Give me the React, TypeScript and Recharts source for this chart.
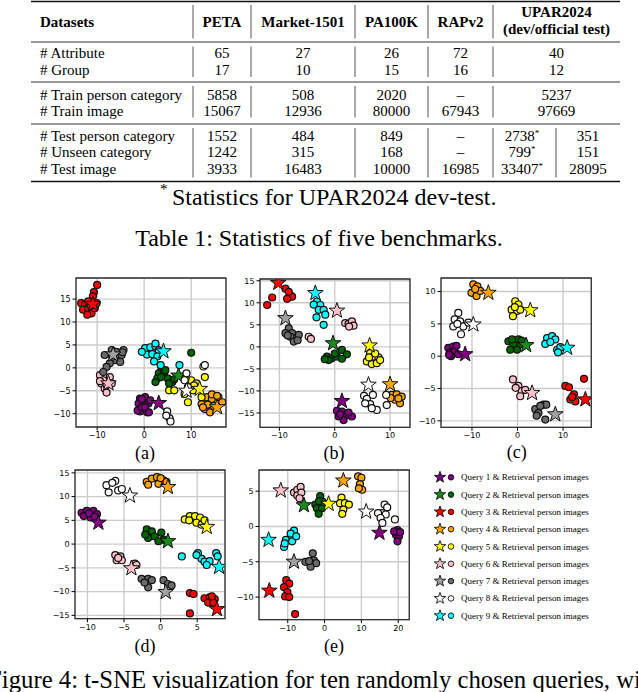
import React from 'react';
import { ScatterChart, Scatter, XAxis, YAxis, CartesianGrid, ReferenceArea } from 'recharts';

// ---------- Table data ----------
const ROW_LABELS = ['# Attribute', '# Group', '# Train person category', '# Train image', '# Test person category', '# Unseen category', '# Test image'];
const PETA = ['65', '17', '5858', '15067', '1552', '1242', '3933'];
const MARKET = ['27', '10', '508', '12936', '484', '315', '16483'];
const PA100K = ['26', '15', '2020', '80000', '849', '168', '10000'];
const RAPV2 = ['72', '16', '\u2013', '67943', '\u2013', '\u2013', '16985'];
const UPAR_DEV = ['40', '12', '5237', '97669', '2738', '799', '33407'];
const UPAR_OFFICIAL = ['', '', '', '', '351', '151', '28095'];
const HEADERS = ['PETA', 'Market-1501', 'PA100K', 'RAPv2'];

// ---------- Scatter data: [x, y] ----------
const QUERY_LABELS = [1, 2, 3, 4, 5, 6, 7, 8, 9];
const CIRCLE_COLORS = ['#800080', '#006400', '#ff0000', '#ffa500', '#ffff00', '#ffc0cb', '#6a6a6a', '#ffffff', '#00ffff'];
const STAR_COLORS = ['#800080', '#1a8a1a', '#ff0000', '#ffa500', '#ffff00', '#ffc0cb', '#a0a0a0', '#ffffff', '#00ffff'];

// (a)
const aStars = [[3.1, -7.7], [7.3, -1.7], [-10.9, 13.9], [15.5, -8.6], [11.8, -4.6], [-7.6, -3.4], [-6.6, 2.9], [9.0, -5.0], [4.1, 3.6]];
const aQ1 = [[-0.9, -6.7], [0.2, -6.4], [-1.2, -7.8], [-0.1, -7.5], [0.9, -7.8], [-0.9, -9.5], [0.6, -9.7], [-1.4, -9.3], [-0.5, -8.6], [1.3, -7.1], [0.2, -8.6], [1.0, -9.7], [-0.5, -6.8]];
const aQ2 = [[3.7, -0.3], [3.1, -1.2], [4.2, -1.2], [5.0, -2.3], [6.0, -3.1], [2.8, -2.3], [2.4, -3.1], [5.3, -3.4], [6.4, -2.5], [10.0, 3.3], [4.5, -0.5], [3.6, -2.0]];
const aQ3 = [[-10.0, 18.1], [-10.7, 16.5], [-10.9, 15.6], [-13.4, 14.1], [-12.6, 13.8], [-11.9, 14.5], [-13.0, 12.7], [-11.9, 12.9], [-11.2, 11.9], [-12.1, 11.6], [-10.5, 13.0], [-10.1, 14.1], [-11.4, 13.6]];
const aQ4 = [[13.3, -6.4], [14.4, -6.8], [15.8, -6.4], [12.2, -7.9], [12.9, -9.0], [14.0, -9.7], [14.8, -8.3], [16.6, -7.5], [14.4, -5.8], [15.5, -6.1], [13.5, -8.0], [12.5, -8.6]];
const aQ5 = [[5.3, -4.9], [6.4, -4.9], [9.3, -7.5], [8.6, -5.7], [10.0, -2.7], [11.1, -3.4], [12.9, -2.0], [10.4, -4.9], [12.2, -6.4], [8.8, -2.3], [10.6, -3.8]];
const aQ6 = [[-9.4, -1.6], [-8.7, -2.7], [-7.3, -2.0], [-9.1, -3.4], [-6.9, -3.4], [-8.4, -4.5], [-8.0, -5.4], [-9.4, -2.9], [-8.0, -3.8]];
const aQ7 = [[-8.4, 2.8], [-6.9, 3.9], [-5.9, 3.5], [-4.4, 3.9], [-4.8, 2.8], [-6.2, 1.7], [-7.3, 1.0], [-5.1, 1.3], [-8.0, 0.2], [-6.8, 2.4], [-8.7, -0.9], [-4.6, 3.4]];
const aQ8 = [[4.9, -9.5], [5.4, -11.0], [5.6, -11.7], [4.7, -10.4], [12.6, 0.3], [12.9, 0.6], [9.0, -1.2], [8.6, -2.7], [9.3, -4.2]];
const aQ9 = [[0.2, 4.3], [1.3, 4.5], [2.4, 4.7], [3.1, 3.8], [0.6, 2.9], [1.7, 3.0], [2.8, 2.5], [2.1, 1.4], [3.5, 0.6], [7.5, 0.6], [-0.5, 3.5], [2.4, 5.3]];

// (b)
const bStars = [[1.3, -12.3], [-0.3, 0.8], [-10.2, 14.5], [10.0, -8.5], [6.3, 0.3], [0.4, 8.2], [-8.9, 6.5], [6.1, -8.6], [-3.5, 12.2]];
const bQ1 = [[0.4, -14.5], [1.3, -14.7], [2.2, -15.5], [3.1, -15.8], [1.6, -16.6], [0.7, -15.8], [2.5, -14.9], [1.0, -15.3]];
const bQ2 = [[-1.4, -2.2], [-0.5, -2.6], [0.4, -2.2], [1.3, -0.7], [2.2, -1.7], [1.3, -2.7], [-1.1, -3.0], [0.0, -1.5], [-1.8, -2.8]];
const bQ3 = [[-8.9, 13.2], [-8.1, 11.8], [-7.7, 11.4], [-8.6, 10.9], [-11.3, 11.2], [-12.2, 9.5], [-8.3, 12.5]];
const bQ4 = [[10.3, -10.9], [11.2, -10.8], [12.1, -11.3], [10.9, -12.0], [11.8, -12.8], [10.1, -11.6], [11.5, -11.7]];
const bQ5 = [[6.4, -1.4], [7.0, -2.2], [7.9, -2.4], [5.8, -3.3], [6.7, -3.9], [7.6, -3.7], [8.2, -3.0], [6.2, -2.4], [7.3, -1.5]];
const bQ6 = [[1.9, 5.4], [2.5, 5.2], [3.1, 5.8], [3.4, 4.8], [-4.7, 2.3], [-4.3, 1.8], [2.6, 4.6]];
const bQ7 = [[-8.3, 4.2], [-7.7, 3.1], [-8.9, 3.1], [-7.1, 2.0], [-8.0, 2.3], [-6.5, 2.7], [-7.4, 1.2], [-6.7, 1.5], [-8.5, 2.6]];
const bQ8 = [[5.3, -11.1], [5.8, -11.8], [6.9, -10.9], [6.4, -13.0], [7.6, -14.3], [6.7, -13.9], [5.5, -12.8], [9.4, -13.2], [9.3, -10.9]];
const bQ9 = [[-3.2, 10.3], [-2.6, 9.5], [-2.9, 8.4], [-2.0, 8.4], [-1.7, 7.3], [-3.3, 6.7], [-2.0, 5.0], [-3.8, 9.6]];

// (c)
const cStars = [[-11.5, 0.3], [1.9, 1.7], [14.9, -6.7], [-6.4, 9.8], [2.8, 7.1], [3.2, -5.7], [8.3, -9.0], [-9.7, 4.9], [10.9, 1.3]];
const cQ1 = [[-15.2, 1.3], [-14.1, 1.5], [-14.9, 0.5], [-13.8, 0.8], [-14.6, 0.0], [-13.0, 0.3], [-13.4, 1.6], [-15.0, 0.2]];
const cQ2 = [[-2.0, 2.3], [-0.9, 1.8], [0.2, 2.6], [0.6, 1.8], [-1.6, 1.0], [-0.1, 1.0], [-1.2, 2.6], [0.9, 2.4]];
const cQ3 = [[10.5, -4.6], [11.3, -4.8], [12.4, -5.9], [11.6, -6.7], [12.7, -7.0], [14.6, -3.5], [12.0, -6.3]];
const cQ4 = [[-9.7, 11.1], [-8.8, 10.8], [-10.1, 9.8], [-9.0, 9.3], [-8.2, 10.1], [-9.3, 10.4]];
const cQ5 = [[-0.5, 8.5], [0.2, 8.0], [-1.3, 7.2], [-0.1, 7.0], [-1.0, 6.2], [0.6, 7.2], [-0.6, 7.6]];
const cQ6 = [[-1.0, -3.6], [0.2, -4.6], [0.9, -5.4], [0.6, -6.2], [1.7, -5.2], [-0.4, -4.9]];
const cQ7 = [[3.9, -8.2], [4.6, -8.8], [5.7, -7.5], [6.3, -7.5], [5.0, -7.7], [6.1, -9.8], [4.2, -9.2]];
const cQ8 = [[-13.0, 6.7], [-13.8, 5.7], [-12.6, 5.4], [-14.1, 4.6], [-11.9, 4.6], [-10.8, 5.2], [-12.4, 3.4], [-13.2, 5.0]];
const cQ9 = [[6.5, 2.8], [7.6, 3.1], [8.3, 2.6], [6.1, 1.9], [8.7, 1.0], [9.4, 1.4], [7.2, 2.2], [8.9, 0.6]];

// (d)
const dStars = [[-8.5, 4.5], [1.0, 0.6], [7.7, -13.7], [1.0, 12.0], [6.3, 3.6], [-4.0, -5.1], [0.7, -10.1], [-4.2, 10.2], [8.0, -4.8]];
const dQ1 = [[-10.8, 6.6], [-10.1, 7.0], [-9.2, 7.0], [-8.7, 6.3], [-9.6, 5.6], [-10.5, 5.9], [-9.0, 5.8], [-9.8, 6.5]];
const dQ2 = [[-1.9, 3.1], [-1.2, 2.7], [-1.7, 1.3], [-0.8, 1.6], [0.1, 2.4], [0.4, 0.9], [-0.3, 0.6], [-2.1, 2.0]];
const dQ3 = [[4.0, -10.3], [4.5, -10.5], [6.0, -11.4], [6.7, -11.2], [7.4, -11.6], [6.5, -12.3], [7.2, -12.3], [4.0, -14.6], [7.0, -11.0]];
const dQ4 = [[-1.9, 13.1], [-1.2, 13.8], [-0.5, 14.1], [0.4, 13.4], [0.8, 13.1], [-0.3, 12.7], [-1.7, 12.5], [0.0, 13.9]];
const dQ5 = [[3.3, 5.2], [4.0, 5.9], [4.7, 5.9], [5.4, 5.6], [4.9, 4.5], [5.6, 4.1], [3.9, 5.0], [6.0, 5.0]];
const dQ6 = [[-6.2, -2.3], [-5.5, -2.6], [-6.0, -3.4], [-5.3, -3.4], [-3.5, -4.1], [-3.3, -4.4], [-5.8, -2.9]];
const dQ7 = [[-2.6, -7.3], [-1.7, -7.3], [-1.2, -7.6], [-1.7, -9.1], [0.4, -7.6], [1.0, -8.4], [1.5, -8.7], [-2.2, -8.1]];
const dQ8 = [[-7.4, 12.4], [-6.2, 13.3], [-7.1, 10.9], [-5.8, 11.3], [-5.3, 11.6], [-6.6, 12.9]];
const dQ9 = [[2.9, -2.6], [5.1, -1.9], [5.6, -3.1], [6.0, -3.7], [6.7, -3.6], [7.6, -1.9], [6.3, -4.4], [7.8, -2.6], [4.9, -2.3]];

// (e)
const eStars = [[14.9, -0.9], [-5.6, 3.0], [-15.0, -9.1], [5.1, 6.5], [1.1, 3.2], [-11.9, 5.1], [-8.3, -5.0], [11.3, 2.1], [-15.2, -1.9]];
const eQ1 = [[19.8, -0.5], [19.4, -1.2], [20.2, -1.4], [19.8, -2.1], [18.9, -0.7], [20.5, -0.8]];
const eQ2 = [[-2.5, 3.1], [-1.2, 4.3], [-2.1, 2.6], [-0.7, 2.6], [-1.6, 1.8], [-0.5, 3.5], [-1.5, 3.6]];
const eQ3 = [[-10.4, -7.6], [-9.6, -8.1], [-11.0, -8.6], [-10.1, -9.3], [-10.7, -9.9], [-9.6, -10.0], [-8.0, -12.4]];
const eQ4 = [[9.1, 7.1], [10.0, 6.9], [9.6, 6.0], [10.2, 5.2], [9.3, 5.4]];
const eQ5 = [[4.6, 4.1], [4.2, 3.3], [5.5, 3.3], [6.6, 3.1], [5.1, 2.4], [4.8, 1.8]];
const eQ6 = [[-8.3, 4.8], [-7.4, 5.2], [-6.5, 5.6], [-7.4, 4.4], [-6.3, 4.8], [-6.8, 4.0]];
const eQ7 = [[-5.2, -5.0], [-3.2, -3.8], [-2.9, -4.8], [-2.3, -5.2], [-3.8, -5.7], [-4.2, -4.9]];
const eQ8 = [[16.3, 3.1], [17.0, 2.7], [15.7, 1.9], [16.6, 1.7], [14.5, 1.9], [15.2, 1.2], [15.7, 0.5], [19.1, 1.0]];
const eQ9 = [[-8.3, -0.6], [-9.2, -1.0], [-10.5, -1.9], [-11.0, -2.9], [-8.8, -2.1], [-7.7, -1.4], [-10.8, -2.4]];

// axis ticks
const aXTicks = [-10, 0, 10];
const aYTicks = [-10, -5, 0, 5, 10, 15];
const bXTicks = [-10, 0, 10];
const bYTicks = [-15, -10, -5, 0, 5, 10, 15];
const cXTicks = [-10, 0, 10];
const cYTicks = [-10, -5, 0, 5, 10];
const dXTicks = [-10, -5, 0, 5];
const dYTicks = [-15, -10, -5, 0, 5, 10, 15];
const eXTicks = [-10, 0, 10, 20];
const eYTicks = [-10, -5, 0, 5];

const PLOTS = [
  { id: 'a', left: 76, top: 278, w: 150, h: 149, xd: [-14.5, 17.4], yd: [-12.9, 19.6], xt: aXTicks, yt: aYTicks, stars: aStars, groups: [aQ1, aQ2, aQ3, aQ4, aQ5, aQ6, aQ7, aQ8, aQ9], label: '(a)', lx: 145, ly: 458.5 },
  { id: 'b', left: 260, top: 278.7, w: 150, h: 148.3, xd: [-13.5, 13.6], yd: [-18.25, 15.4], xt: bXTicks, yt: bYTicks, stars: bStars, groups: [bQ1, bQ2, bQ3, bQ4, bQ5, bQ6, bQ7, bQ8, bQ9], label: '(b)', lx: 334, ly: 458.5 },
  { id: 'c', left: 440.7, top: 278, w: 150.3, h: 149.3, xd: [-16.8, 16.2], yd: [-11.0, 12.1], xt: cXTicks, yt: cYTicks, stars: cStars, groups: [cQ1, cQ2, cQ3, cQ4, cQ5, cQ6, cQ7, cQ8, cQ9], label: '(c)', lx: 516.7, ly: 457.5 },
  { id: 'd', left: 75, top: 470, w: 150, h: 148.7, xd: [-11.7, 8.8], yd: [-15.7, 15.6], xt: dXTicks, yt: dYTicks, stars: dStars, groups: [dQ1, dQ2, dQ3, dQ4, dQ5, dQ6, dQ7, dQ8, dQ9], label: '(d)', lx: 145, ly: 652 },
  { id: 'e', left: 259, top: 470, w: 150.3, h: 149.7, xd: [-17.8, 23.0], yd: [-13.2, 8.0], xt: eXTicks, yt: eYTicks, stars: eStars, groups: [eQ1, eQ2, eQ3, eQ4, eQ5, eQ6, eQ7, eQ8, eQ9], label: '(e)', lx: 334, ly: 652 },
];

const SERIF = "'Liberation Serif', 'Times New Roman', Times, serif";
const SANS = "'DejaVu Sans', sans-serif";

const fmt = (v: number) => (v < 0 ? '\u2212' + Math.abs(v) : String(v));
const toPts = (arr: number[][]) => arr.map(([x, y]) => ({ x, y }));

function starPath(cx: number, cy: number, R: number, r: number) {
  let d = '';
  for (let k = 0; k < 10; k++) {
    const ang = -Math.PI / 2 + (k * Math.PI) / 5;
    const rad = k % 2 === 0 ? R : r;
    const px = cx + rad * Math.cos(ang);
    const py = cy + rad * Math.sin(ang);
    d += (k === 0 ? 'M' : 'L') + px.toFixed(2) + ',' + py.toFixed(2);
  }
  return d + 'Z';
}

const circleShape = (fill: string) => (p: any) => (
  <circle cx={p.cx} cy={p.cy} r={3.5} fill={fill} stroke="#111" strokeWidth={1.2} />
);
const starShape = (fill: string) => (p: any) => (
  <path d={starPath(p.cx, p.cy, 8.2, 3.3)} fill={fill} stroke="#111" strokeWidth={1} strokeLinejoin="miter" />
);

function Subplot({ cfg }: { cfg: any }) {
  const { left, top, w, h, xd, yd, xt, yt, stars, groups } = cfg;
  const YW = 30, XH = 20, MT = 4, MR = 4;
  const series: any[] = [];
  groups.forEach((g: number[][], i: number) => {
    series.push(
      <Scatter key={'c' + i} data={toPts(g)} shape={circleShape(CIRCLE_COLORS[i])} isAnimationActive={false} />
    );
    series.push(
      <Scatter key={'s' + i} data={toPts([stars[i]])} shape={starShape(STAR_COLORS[i])} isAnimationActive={false} />
    );
  });
  const tickStyle = { fontSize: 8, fill: '#000', fontFamily: SANS };
  return (
    <div style={{ position: 'absolute', left: left - YW, top: top - MT }}>
      <ScatterChart width={YW + w + MR} height={MT + h + XH} margin={{ top: MT, right: MR, bottom: 0, left: 0 }}>
        <CartesianGrid stroke="#cccccc" strokeWidth={1.4} />
        <XAxis type="number" dataKey="x" domain={xd} ticks={xt} allowDataOverflow interval={0} height={XH}
          axisLine={false} tickSize={3.5} tickMargin={2} tickLine={{ stroke: '#000', strokeWidth: 1 }}
          tick={tickStyle} tickFormatter={fmt} />
        <YAxis type="number" dataKey="y" domain={yd} ticks={yt} allowDataOverflow interval={0} width={YW}
          axisLine={false} tickSize={3.5} tickMargin={2} tickLine={{ stroke: '#000', strokeWidth: 1 }}
          tick={tickStyle} tickFormatter={fmt} />
        {series}
        <ReferenceArea x1={xd[0]} x2={xd[1]} y1={yd[0]} y2={yd[1]} fill="none" fillOpacity={0}
          stroke="#333" strokeWidth={1.3} ifOverflow="visible" />
      </ScatterChart>
    </div>
  );
}

const COL_CENTERS = [222, 303, 391.5, 460.5];
const UPAR_CENTER = 556.5;
const UPAR_DEV_X = 522;
const UPAR_OFF_X = 588;
const ROW_BASELINES = [57.5, 74.5, 99.5, 116, 140.5, 157, 173.5];
const VLINES = [193, 251, 355, 428, 493];
const VSEGS = [[5, 38.5], [46.5, 77], [86, 117.5], [128, 177.5]];

function Table() {
  const cols = [PETA, MARKET, PA100K, RAPV2];
  return (
    <g fontFamily={SERIF} fill="#000">
      <line x1={31} x2={620} y1={1.5} y2={1.5} stroke="#111" strokeWidth={1.3} />
      <line x1={31} x2={620} y1={42} y2={42} stroke="#333" strokeWidth={1} />
      <line x1={31} x2={620} y1={82} y2={82} stroke="#333" strokeWidth={1} />
      <line x1={31} x2={620} y1={124} y2={124} stroke="#333" strokeWidth={1} />
      <line x1={31} x2={620} y1={181.5} y2={181.5} stroke="#111" strokeWidth={1.3} />
      {VLINES.map((x) => VSEGS.map(([a, b], k) => (
        <line key={x + '-' + k} x1={x} x2={x} y1={a} y2={b} stroke="#555" strokeWidth={1} />
      )))}
      <line x1={556} x2={556} y1={128} y2={177.5} stroke="#555" strokeWidth={1} />
      <text x={40} y={27} fontSize={15} fontWeight="bold">Datasets</text>
      {HEADERS.map((hname, i) => (
        <text key={hname} x={COL_CENTERS[i]} y={27} fontSize={15} fontWeight="bold" textAnchor="middle">{hname}</text>
      ))}
      <text x={UPAR_CENTER} y={17} fontSize={15} fontWeight="bold" textAnchor="middle">UPAR2024</text>
      <text x={UPAR_CENTER} y={34} fontSize={15} fontWeight="bold" textAnchor="middle">(dev/official test)</text>
      {ROW_LABELS.map((lab, r) => (
        <text key={lab} x={40} y={ROW_BASELINES[r]} fontSize={15}>{lab}</text>
      ))}
      {cols.map((col, i) => col.map((v, r) => (
        <text key={i + '-' + r} x={COL_CENTERS[i]} y={ROW_BASELINES[r]} fontSize={15} textAnchor="middle">{v}</text>
      )))}
      {UPAR_DEV.map((v, r) => (
        r < 4 ? (
          <text key={'u' + r} x={UPAR_CENTER} y={ROW_BASELINES[r]} fontSize={15} textAnchor="middle">{v}</text>
        ) : (
          <text key={'u' + r} x={UPAR_DEV_X} y={ROW_BASELINES[r]} fontSize={15} textAnchor="middle">
            {v}<tspan fontSize={9} dy={-5}>*</tspan>
          </text>
        )
      ))}
      {UPAR_OFFICIAL.map((v, r) => (
        v ? <text key={'o' + r} x={UPAR_OFF_X} y={ROW_BASELINES[r]} fontSize={15} textAnchor="middle">{v}</text> : null
      ))}
      <text x={160} y={194} fontSize={15}>*</text>
      <text x={172} y={205} fontSize={24}>Statistics for UPAR2024 dev-test.</text>
      <text x={319} y={246} fontSize={24} textAnchor="middle">Table 1: Statistics of five benchmarks.</text>
    </g>
  );
}

function Legend() {
  return (
    <g>
      {QUERY_LABELS.map((q, i) => {
        const y = 477.3 + i * 17.3;
        return (
          <g key={q}>
            <path d={starPath(440, y, 6, 2.4)} fill={STAR_COLORS[i]} stroke="#111" strokeWidth={0.9} />
            <circle cx={451} cy={y} r={2.8} fill={CIRCLE_COLORS[i]} stroke="#111" strokeWidth={0.9} />
            <text x={461} y={y + 3} fontSize={9} fontFamily={SERIF} fill="#000">{`Query ${q} & Retrieval person images`}</text>
          </g>
        );
      })}
    </g>
  );
}

export default function App() {
  return (
    <div style={{ position: 'absolute', left: 0, top: 0, width: 638, height: 692, overflow: 'hidden', background: '#fff' }}>
      <svg width={638} height={692} style={{ position: 'absolute', left: 0, top: 0 }}>
        <Table />
        <Legend />
        {PLOTS.map((p) => (
          <text key={p.id} x={p.lx} y={p.ly} fontSize={18} fontFamily={SERIF} textAnchor="middle" fill="#000">{p.label}</text>
        ))}
        <text x={-12} y={688} fontSize={24.75} fontFamily={SERIF} fill="#000">Figure 4: t-SNE visualization for ten randomly chosen queries, with</text>
      </svg>
      {PLOTS.map((p) => (
        <Subplot key={p.id} cfg={p} />
      ))}
    </div>
  );
}
